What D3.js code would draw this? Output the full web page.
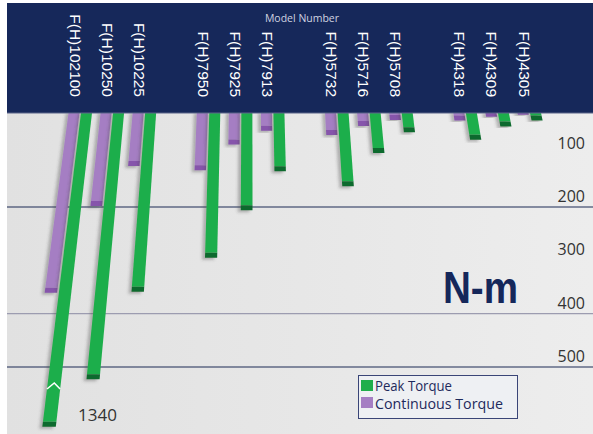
<!DOCTYPE html>
<html>
<head>
<meta charset="utf-8">
<script src="https://cdn.jsdelivr.net/npm/d3@7"></script>
<style>
  html, body { margin: 0; padding: 0; background: #fff; }
  svg { display: block; }
</style>
</head>
<body>
<div id="chart"></div>
<script>
// model names, read left to right
const models = ["F(H)102100", "F(H)10250", "F(H)10225", "F(H)7950", "F(H)7925", "F(H)7913",
                "F(H)5732", "F(H)5716", "F(H)5708", "F(H)4318", "F(H)4309", "F(H)4305"];
// torque in N-m
const peakTorque = [1340, 523, 359, 295, 206, 133, 161, 99, 60, 74, 49, 38];
const contTorque = [361, 198, 123, 131, 83, 57, 65, 48, 37, 38, 31, 27];
const tickValues = [100, 200, 300, 400, 500];
const gridValues = [200, 400, 500];
const legendItems = ["Peak Torque", "Continuous Torque"];

const width = 593, height = 434;
const headerBottom = 113;
const green = "#1fae4b", greenDark = "#0e6a2d";
const purple = "#a57ec3", purpleDark = "#8655ab";
const navy = "#16285a";

const svg = d3.select("#chart").append("svg")
  .attr("width", width).attr("height", height);

const defs = svg.append("defs");
const grad = defs.append("linearGradient").attr("id", "bg").attr("x1", "0").attr("x2", "1");
grad.append("stop").attr("offset", "0").attr("stop-color", "#e1e1e1");
grad.append("stop").attr("offset", "1").attr("stop-color", "#ededed");
defs.append("filter").attr("id", "shadow").attr("x", "-50%").attr("y", "-10%").attr("width", "200%").attr("height", "120%")
  .append("feDropShadow")
  .attr("dx", -3).attr("dy", 2).attr("stdDeviation", 1.8)
  .attr("flood-color", "#444").attr("flood-opacity", 0.35);

// plot background
svg.append("rect").attr("x", 7).attr("y", headerBottom).attr("width", width - 7).attr("height", height - headerBottom)
  .attr("fill", "url(#bg)");

// slot index: leave an empty slot between model families (10xxx, 7xxx, 5xxx, 4xxx)
const family = m => m.charAt(4);
let slot = -1;
const slots = models.map((m, i) => {
  slot += (i > 0 && family(m) !== family(models[i - 1])) ? 2 : 1;
  return slot;
});

const x = d3.scaleLinear().domain([0, d3.max(slots)]).range([80, 529]);
const y = d3.scaleLinear().domain([0, 500]).range([100.3, 367]);
const breakAt = 612; // values over this are cut with a break mark

// slight perspective: bars spread out from a point far above
const vpX = 250, k = 0.00073;
const persp = (px, py) => vpX + (px - vpX) * (1 + k * (py - headerBottom));

// grid lines
svg.selectAll(".grid").data(gridValues).join("line")
  .attr("x1", 7).attr("x2", width)
  .attr("y1", d => y(d)).attr("y2", d => y(d))
  .attr("stroke", d => d === 400 ? "#9c9cb0" : "#1d2a55")
  .attr("stroke-width", 1.2);

// tick labels
svg.selectAll(".tick").data(tickValues).join("text")
  .attr("x", 585).attr("y", d => y(d) - 5)
  .attr("text-anchor", "end")
  .attr("font-family", "Open Sans, sans-serif").attr("font-size", 16)
  .attr("fill", "#333")
  .text(d => d);

function barPath(x0, x1, y0, y1) {
  return "M" + [
    [persp(x0, y0), y0], [persp(x1, y0), y0], [persp(x1, y1), y1], [persp(x0, y1), y1]
  ].map(p => p.join(",")).join("L") + "Z";
}

const bars = [];
models.forEach((m, i) => {
  const cx = x(slots[i]);
  bars.push({ x0: cx - 11.5, x1: cx - 0.5, v: contTorque[i], fill: purple, cap: purpleDark });
  bars.push({ x0: cx + 1, x1: cx + 12, v: peakTorque[i], fill: green, cap: greenDark });
});

const barG = svg.append("g");
bars.forEach(b => {
  const yEnd = y(Math.min(b.v, breakAt));
  const g = barG.append("g").attr("filter", "url(#shadow)");
  g.append("path").attr("d", barPath(b.x0, b.x1, headerBottom - 2, yEnd - 5)).attr("fill", b.fill);
  g.append("path").attr("d", barPath(b.x0, b.x1, yEnd - 5, yEnd)).attr("fill", b.cap);
  if (b.v > breakAt) {
    const yb = y(530);
    const xm = (b.x0 + b.x1) / 2;
    barG.append("path")
      .attr("d", `M${persp(b.x0, yb + 6)},${yb + 6}L${persp(xm, yb)},${yb}L${persp(b.x1, yb + 6)},${yb + 6}`)
      .attr("fill", "none").attr("stroke", "#fff").attr("stroke-width", 1.6);
    svg.append("text")
      .attr("x", 78).attr("y", yEnd - 6)
      .attr("font-family", "Open Sans, sans-serif").attr("font-size", 17)
      .attr("fill", "#333")
      .text(b.v);
  }
});

// header band
svg.append("rect").attr("x", 7).attr("y", 3).attr("width", width - 7).attr("height", headerBottom - 3)
  .attr("fill", navy);
svg.append("line").attr("x1", 7).attr("x2", width).attr("y1", headerBottom).attr("y2", headerBottom)
  .attr("stroke", "#5b6589").attr("stroke-width", 1);

svg.append("text")
  .attr("x", 302).attr("y", 22)
  .attr("text-anchor", "middle")
  .attr("font-family", "Open Sans, sans-serif").attr("font-size", 10.5)
  .attr("fill", "#cfd3e0")
  .text("Model Number");

svg.selectAll(".model").data(models).join("text")
  .attr("transform", (d, i) => `translate(${x(slots[i]) - 10.5},97) rotate(90)`)
  .attr("text-anchor", "end")
  .attr("font-family", "Liberation Sans, Arial, sans-serif").attr("font-size", 15.5)
  .attr("fill", "#fff")
  .text(d => d);

// unit label
svg.append("text")
  .attr("x", 443).attr("y", 303)
  .attr("font-family", "Liberation Sans, Arial, sans-serif").attr("font-weight", "bold").attr("font-size", 44)
  .attr("textLength", 75).attr("lengthAdjust", "spacingAndGlyphs")
  .attr("fill", "#15275a")
  .text("N-m");

// legend
const lg = svg.append("g");
lg.append("rect").attr("x", 358.5).attr("y", 375.5).attr("width", 159).attr("height", 43)
  .attr("fill", "#eef0f3").attr("stroke", "#3a4577").attr("stroke-width", 1);
lg.selectAll(".sw").data(legendItems).join("rect")
  .attr("x", 361).attr("y", (d, i) => 380 + i * 17).attr("width", 12).attr("height", 11)
  .attr("fill", (d, i) => i === 0 ? green : purple);
lg.selectAll(".lt").data(legendItems).join("text")
  .attr("x", 375).attr("y", (d, i) => 391 + i * 18)
  .attr("font-family", "Open Sans, sans-serif").attr("font-size", 14.5)
  .attr("textLength", (d, i) => i === 0 ? 77 : 128).attr("lengthAdjust", "spacingAndGlyphs")
  .attr("fill", "#1e2a5c")
  .text(d => d);
</script>
</body>
</html>
